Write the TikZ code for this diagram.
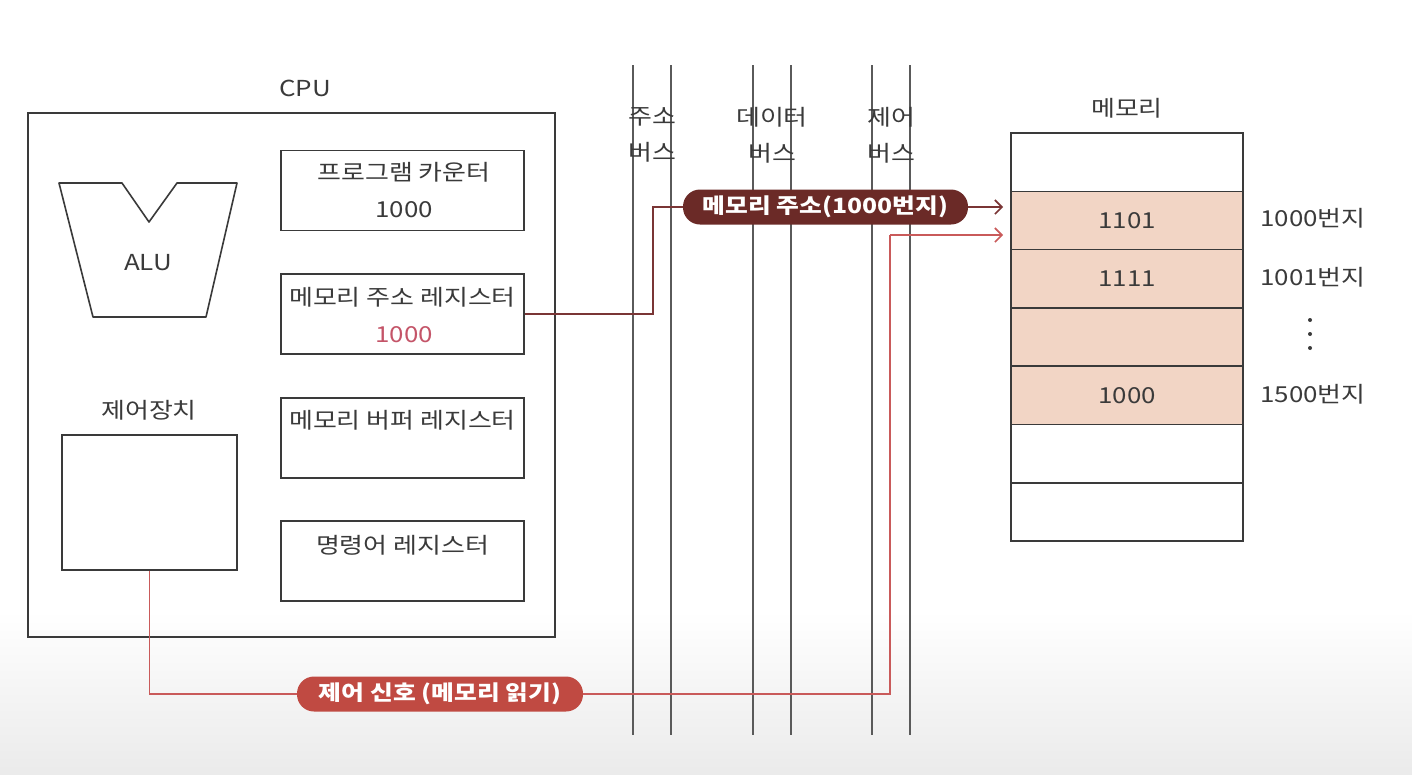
\documentclass[tikz,border=0pt]{standalone}
\usepackage{fontspec}
\setmainfont{Noto Sans CJK KR}[FakeStretch=1.18]
\usetikzlibrary{arrows.meta}

\definecolor{ink}{HTML}{3A3A3A}
\definecolor{busgray}{HTML}{5A5A5A}
\definecolor{peach}{HTML}{F2D5C5}
\definecolor{addrfill}{HTML}{6B2A27}
\definecolor{addrline}{HTML}{7A3535}
\definecolor{ctrlfill}{HTML}{C04A42}
\definecolor{ctrlline}{HTML}{C95A5A}
\definecolor{marval}{HTML}{C45468}

\tikzset{
  txt/.style={text=ink, font=\fontsize{22}{36}\selectfont, inner sep=0pt},
  box/.style={draw=ink, line width=1.6pt},
  regbox/.style={box, minimum width=243pt, minimum height=80pt, inner sep=0pt},
  bus/.style={draw=busgray, line width=1.3pt},
  memrow/.style={box, minimum width=232pt, minimum height=58.3pt, inner sep=0pt},
  pill/.style={rectangle, rounded corners=17pt, minimum height=35pt, inner sep=0pt,
    text=white, font=\fontsize{21}{24}\selectfont\bfseries},
  addrwire/.style={draw=addrline, line width=1.6pt},
  ctrlwire/.style={draw=ctrlline, line width=1.4pt},
  barb/.style={-{Straight Barb[length=7pt, width=14pt, line width=1.6pt]}}
}

\begin{document}
\begin{tikzpicture}[x=1pt, y=-1pt]
  \useasboundingbox (0,0) rectangle (1412,774);
  \fill[white] (0,0) rectangle (1412,774);
  \shade[top color=white, bottom color=black!8] (0,610) rectangle (1412,774);

  % CPU
  \node[txt] (cpulabel) at (305,88) {CPU};
  \node[box, minimum width=527pt, minimum height=524pt, inner sep=0pt] (cpu) at (291.5,375) {};

  % ALU
  \draw[box, line join=round] (59,183) -- (122,183) -- (149,222) -- (177,183) -- (237,183)
    -- (206,317) -- (93,317) -- cycle;
  \node[txt] (alu) at (148,263) {ALU};

  % control unit
  \node[txt] (culabel) at (149,410) {제어장치};
  \node[box, minimum width=175pt, minimum height=135pt, inner sep=0pt] (cu) at (149.5,502.5) {};

  % registers
  \node[regbox] (pc) at (402.5,190.5) {};
  \node[txt] (pct) at (404,172) {프로그램 카운터};
  \node[txt] (pcv) at (404,210) {1000};

  \node[regbox] (mar) at (402.5,314) {};
  \node[txt] (mart) at (402.5,297) {메모리 주소 레지스터};
  \node[txt, text=marval] (marv) at (404,335) {1000};

  \node[regbox] (mbr) at (402.5,438) {};
  \node[txt] (mbrt) at (402.5,420) {메모리 버퍼 레지스터};

  \node[regbox] (ir) at (402.5,561) {};
  \node[txt] (irt) at (402.5,545) {명령어 레지스터};

  % system buses
  \foreach \bx in {633,671,753,791,872,910}
    \draw[bus] (\bx,65) -- (\bx,735);
  \node[txt, align=center] (abus) at (652,135) {주소\\버스};
  \node[txt, align=center] (dbus) at (772,135) {데이터\\버스};
  \node[txt, align=center] (cbus) at (891,135) {제어\\버스};

  % memory
  \node[txt] (memlabel) at (1127,108) {메모리};
  \node[memrow] (m0) at (1127,162.15) {};
  \node[memrow, fill=peach] (m1) at (1127,220.45) {};
  \node[memrow, fill=peach] (m2) at (1127,278.75) {};
  \node[memrow, fill=peach] (m3) at (1127,337.05) {};
  \node[memrow, fill=peach] (m4) at (1127,395.35) {};
  \node[memrow] (m5) at (1127,453.65) {};
  \node[memrow] (m6) at (1127,511.95) {};
  \node[txt] (v1) at (m1) {1101};
  \node[txt] (v2) at (m2) {1111};
  \node[txt] (v4) at (m4) {1000};
  \node[txt] (a1) at (1313,218) {1000번지};
  \node[txt] (a2) at (1313,277) {1001번지};
  \node[txt] (a4) at (1313,394) {1500번지};
  \foreach \dy in {320,334,348}
    \fill[ink] (1310,\dy) circle (2pt);

  % address path: MAR -> address bus -> memory
  \node[pill, fill=addrfill, minimum width=285pt] (addrpill) at (825.5,207) {메모리 주소(1000번지)};
  \coordinate (addrend) at (1003,207);
  \draw[addrwire] (mar.east) -- ++(128,0) |- (addrpill.west);
  \draw[addrwire, barb] (addrpill.east) -- (addrend);

  % control path: control unit -> control bus -> memory
  \node[pill, fill=ctrlfill, minimum width=286pt] (ctrlpill) at (440,694) {제어 신호 (메모리 읽기)};
  \coordinate (cturn) at (890,235);
  \coordinate (ctrlend) at (1003,235);
  \draw[ctrlwire] (cu.south) |- (ctrlpill.west);
  \draw[ctrlwire] (ctrlpill.east) -| (cturn);
  \draw[ctrlwire, barb] (cturn) -- (ctrlend);
\end{tikzpicture}
\end{document}
